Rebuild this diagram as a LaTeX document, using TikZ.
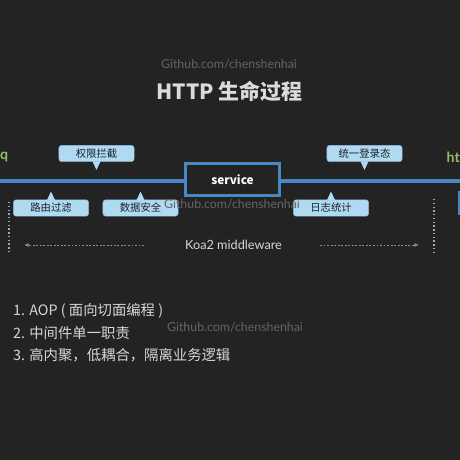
\documentclass[tikz,border=0pt]{standalone}
\usepackage{fontspec}
\setmainfont{Noto Sans CJK SC}
\newfontfamily\latinfont{Lato}
\usetikzlibrary{arrows.meta,calc,positioning}
\definecolor{slidebg}{RGB}{35,35,35}
\definecolor{koablue}{RGB}{72,134,196}
\definecolor{tagblue}{RGB}{176,218,242}
\definecolor{tagtext}{RGB}{28,32,38}
\definecolor{reqgreen}{RGB}{150,190,95}
\definecolor{markgray}{RGB}{100,100,100}
\definecolor{softwhite}{RGB}{215,215,215}
\definecolor{dotblue}{RGB}{120,150,180}

\begin{document}
\begin{tikzpicture}[
    x=0.85pt, y=-0.85pt,
    tag/.style={fill=tagblue, draw=koablue!60, line width=0.4pt, rounded corners=2.5pt, minimum width=64pt, minimum height=14pt, inner sep=1pt, font=\fontsize{8.8}{10}\selectfont, text=tagtext},
    watermark/.style={font=\latinfont\fontsize{10.5}{12}\selectfont, text=markgray},
    listline/.style={anchor=west, font=\fontsize{12.2}{14}\selectfont, text=softwhite},
    flow/.style={dashed, dash pattern=on 1.6pt off 1.4pt, line width=0.8pt, dotblue, -{Latex[length=4pt,width=3.5pt]}},
    edge/.style={dotted, line width=1.2pt, dotblue!80}
]

% Background
\fill[slidebg] (0,0) rectangle (460,460);
\clip (0,0) rectangle (460,460);

% Title
\node[watermark] (mark1) at (229,64) {Github.com/chenshenhai};
\node[font=\fontsize{17.8}{20}\selectfont\bfseries, text=softwhite!90] (title) at (229.5,91) {HTTP 生命过程};

% Request line
\node[font=\latinfont\fontsize{12}{14}\selectfont\bfseries, text=reqgreen, anchor=west, inner sep=0pt] (req) at (0,157) {q};
\node[font=\latinfont\fontsize{12}{14}\selectfont\bfseries, text=reqgreen, anchor=east, inner sep=0pt] (res) at (460,157) {ht};
\coordinate (start) at (0,181);
\coordinate (stop) at (460,181);
\draw[koablue, line width=2.6pt] (start) -- (stop);

% Service
\node[draw=koablue, line width=2.4pt, fill=slidebg, minimum width=80pt, minimum height=27pt, font=\fontsize{10}{12}\selectfont\bfseries, text=white] (service) at (232.5,179.5) {service};

% Middlewares above the line
\node[tag] (perm) at (96.5,153.5) {权限拦截};
\node[tag] (login) at (364.5,153.5) {统一登录态};
\foreach \t in {perm,login}
    \fill[tagblue] ($(\t.south)+(-4,-0.5)$) -- ($(\t.south)+(4,-0.5)$) -- ($(\t.south)+(0,8)$) -- cycle;

% Middlewares below the line
\node[tag] (route) at (51,208) {路由过滤};
\node[tag] (data) at (140.5,208) {数据安全};
\node[tag] (log) at (331,208) {日志统计};
\foreach \t in {route,data,log}
    \fill[tagblue] ($(\t.north)+(-4,0.5)$) -- ($(\t.north)+(4,0.5)$) -- ($(\t.north)+(0,-8)$) -- cycle;
\node[draw=koablue, line width=1.6pt, fill=slidebg, minimum width=20pt, minimum height=18pt, anchor=west] (next) at (458,203) {};

\node[watermark] (mark2) at (232,204) {Github.com/chenshenhai};

% Koa2 middleware span
\coordinate (lefttop) at (9,202);
\coordinate (leftbot) at (9,252);
\coordinate (righttop) at (434,199);
\coordinate (rightbot) at (434,252);
\draw[edge] (lefttop) -- (leftbot);
\draw[edge] (righttop) -- (rightbot);
\node[font=\latinfont\fontsize{10.8}{12}\selectfont, text=softwhite] (koa) at (233.5,245) {Koa2 middleware};
\coordinate (leftend) at (24,245);
\coordinate (rightend) at (419,245);
\draw[flow] ($(koa.west)+(-37,0)$) -- (leftend);
\draw[flow] ($(koa.east)+(34,0)$) -- (rightend);

% Notes
\node[listline] (aop) at (9,311) {1. AOP ( 面向切面编程 )};
\node[listline] (single) at (9,333) {2. 中间件单一职责};
\node[listline] (loose) at (9,355) {3. 高内聚，低耦合，隔离业务逻辑};
\node[watermark] (mark3) at (235,327) {Github.com/chenshenhai};

\end{tikzpicture}
\end{document}
